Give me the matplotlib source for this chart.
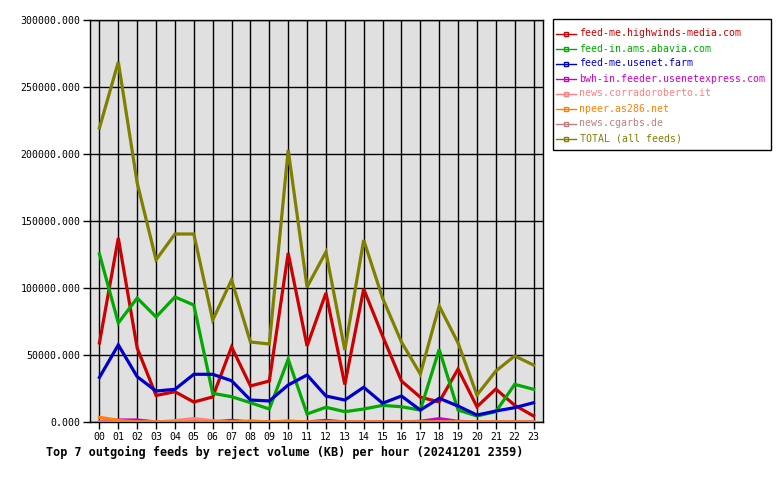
import numpy as np
import matplotlib
matplotlib.use("Agg")
import matplotlib.pyplot as plt
from matplotlib.patches import Rectangle
from matplotlib.ticker import FuncFormatter

hours = ["%02d" % h for h in range(24)]

feeds = [
    "feed-me.highwinds-media.com",
    "feed-in.ams.abavia.com",
    "feed-me.usenet.farm",
    "bwh-in.feeder.usenetexpress.com",
    "news.corradoroberto.it",
    "npeer.as286.net",
    "news.cgarbs.de",
    "TOTAL (all feeds)",
]
colors = ["#cc0000", "#00aa00", "#0000cc", "#cc00cc",
          "#ff8080", "#ff8000", "#c08080", "#808000"]

highwinds = [59000, 137300, 55200, 19800, 22600, 14900, 18700, 56000, 26900, 30600,
             126100, 56700, 96300, 28000, 99300, 64200, 30600, 18500, 15000, 39500,
             11400, 24600, 12500, 4500]
abavia = [125400, 73900, 92500, 78400, 93300, 87300, 21400, 18900, 14400, 9700,
          46800, 6000, 11000, 7700, 9700, 12400, 11400, 8900, 54200, 8900,
          4500, 7700, 28100, 24400]
usenetfarm = [33300, 57500, 33800, 23100, 24400, 35600, 35600, 30800, 16400, 15700,
              27600, 35100, 19400, 16400, 25900, 14000, 19400, 8900, 17700, 11900,
              5200, 8200, 10700, 14400]
usenetexpress = [0, 1500, 1500, 0, 0, 0, 0, 1200, 0, 0,
                 0, 0, 1200, 0, 0, 0, 0, 500, 2500, 500,
                 0, 0, 0, 0]
corradoroberto = [0, 0, 0, 0, 1000, 2500, 1000, 0, 0, 0,
                  0, 0, 0, 0, 0, 0, 0, 0, 0, 0,
                  0, 0, 0, 0]
npeer = [3500, 1200, 0, 0, 0, 0, 0, 0, 800, 0,
         800, 0, 0, 0, 0, 0, 0, 0, 0, 0,
         0, 0, 0, 0]
cgarbs = [0] * 24
total = [219400, 268700, 178400, 121000, 140300, 140300, 76100, 106000, 59700, 58200,
         203000, 100700, 126900, 53700, 135800, 92500, 59700, 35800, 86600, 59000,
         20100, 38000, 49300, 42500]

series = [highwinds, abavia, usenetfarm, usenetexpress,
          corradoroberto, npeer, cgarbs, total]

mono = "DejaVu Sans Mono"
W, H = 780, 480

fig = plt.figure(figsize=(W / 100, H / 100), dpi=100)
ax = fig.add_axes([90 / W, 58 / H, 453 / W, 402 / H])
ax.set_facecolor("#e0e0e0")

x = np.arange(24)
# small ones first so the big ones sit on top, cgarbs along the bottom
order = [6, 5, 4, 3, 2, 1, 0, 7]
for i in order:
    ax.plot(x, series[i], color=colors[i], lw=2.3, solid_joinstyle="miter",
            zorder=3 + i * 0.1)

ax.set_xlim(-0.5, 23.5)
ax.set_ylim(0, 300000)
ax.set_xticks(x)
ax.set_xticklabels(hours)
ax.set_yticks(np.arange(0, 300001, 50000))
ax.yaxis.set_major_formatter(FuncFormatter(lambda v, p: "%.3f" % v))
ax.grid(True, color="black", lw=1)
ax.set_axisbelow(True)
for s in ax.spines.values():
    s.set_color("black")
    s.set_linewidth(1)
ax.tick_params(direction="out", length=5, width=1, colors="black", pad=2)
for lab in ax.get_xticklabels() + ax.get_yticklabels():
    lab.set_fontfamily(mono)
    lab.set_fontsize(7.1)

# legend box drawn by hand (pixel layout like the rrd-style original)
def fx(px):
    return px / W

def fy(py):
    return 1 - py / H

fig.add_artist(Rectangle((fx(553), fy(150)), fx(771) - fx(553), fy(19) - fy(150),
                         transform=fig.transFigure, facecolor="white",
                         edgecolor="black", lw=1))
for k, (name, c) in enumerate(zip(feeds, colors)):
    yy = fy(33.5 + k * 15)
    fig.add_artist(plt.Line2D([fx(556), fx(576)], [yy, yy], color=c, lw=1,
                              transform=fig.transFigure))
    fig.add_artist(plt.Line2D([fx(566)], [yy], color=c, marker="s", markersize=3,
                              markerfacecolor="none", markeredgewidth=1,
                              transform=fig.transFigure))
    fig.text(fx(579.5), yy, name, color=c, family=mono, fontsize=7.1,
             va="center", ha="left")

fig.text(fx(46), fy(452),
         "Top 7 outgoing feeds by reject volume (KB) per hour (20241201 2359)",
         family=mono, fontsize=8.5, fontweight="bold", va="center", ha="left")

fig.savefig("out.png", dpi=100, facecolor="white")
